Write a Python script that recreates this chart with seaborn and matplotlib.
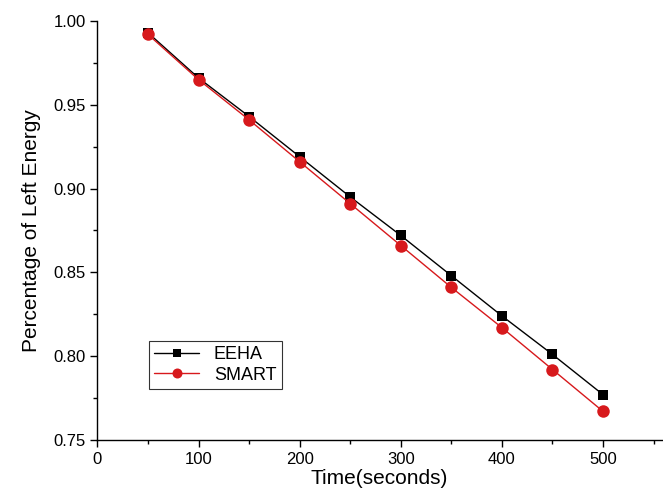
import numpy as np
import pandas as pd
import matplotlib
matplotlib.use('Agg')
import matplotlib.pyplot as plt
import seaborn as sns
from matplotlib.ticker import MultipleLocator

time_s = [50, 100, 150, 200, 250, 300, 350, 400, 450, 500]
eeha = [0.993, 0.966, 0.943, 0.919, 0.895, 0.872, 0.848, 0.824, 0.801, 0.777]
smart = [0.992, 0.965, 0.941, 0.916, 0.891, 0.866, 0.841, 0.817, 0.792, 0.767]
series_names = ['EEHA', 'SMART']

df = pd.DataFrame({
    'time': time_s * 2,
    'energy': eeha + smart,
    'method': [series_names[0]] * len(time_s) + [series_names[1]] * len(time_s),
})

sns.set_style('ticks', {'text.color': 'black', 'axes.labelcolor': 'black',
                        'xtick.color': 'black', 'ytick.color': 'black',
                        'axes.edgecolor': 'black'})
plt.rcParams['font.family'] = ['Liberation Sans', 'DejaVu Sans']

fig = plt.figure(figsize=(6.63, 5.01), dpi=100)
ax = fig.add_axes([0.147, 0.122, 0.851, 0.836])

sns.lineplot(data=df, x='time', y='energy', hue='method', style='method',
             palette={'EEHA': 'black', 'SMART': '#d7191c'},
             markers={'EEHA': 's', 'SMART': 'o'}, dashes=False,
             markersize=7.5, linewidth=1, markeredgewidth=0, ax=ax)
# circles look a bit larger than squares in the original
for ln in ax.lines:
    if ln.get_marker() == 'o':
        ln.set_markersize(9)

ax.set_xlim(0, 558)
ax.set_ylim(0.75, 1.0)
ax.xaxis.set_major_locator(MultipleLocator(100))
ax.xaxis.set_minor_locator(MultipleLocator(50))
ax.yaxis.set_major_locator(MultipleLocator(0.05))
ax.yaxis.set_minor_locator(MultipleLocator(0.025))
ax.yaxis.set_major_formatter(matplotlib.ticker.FormatStrFormatter('%.2f'))
ax.tick_params(which='major', length=5, width=1, labelsize=12, direction='out')
ax.tick_params(which='minor', length=3, width=1, direction='out')
sns.despine(ax=ax)
for s in ['left', 'bottom']:
    ax.spines[s].set_linewidth(1)

ax.set_xlabel('Time(seconds)', fontsize=15, labelpad=2)
ax.set_ylabel('Percentage of Left Energy', fontsize=15, labelpad=9)

leg = ax.legend(loc='lower left', bbox_to_anchor=(0.075, 0.1), fontsize=13,
                frameon=True, fancybox=False, edgecolor='black',
                handlelength=2.5, borderpad=0.3, labelspacing=0.2, markerscale=0.8)
leg.get_frame().set_linewidth(0.8)
leg.set_title(None)

fig.savefig('out.png', dpi=100)
